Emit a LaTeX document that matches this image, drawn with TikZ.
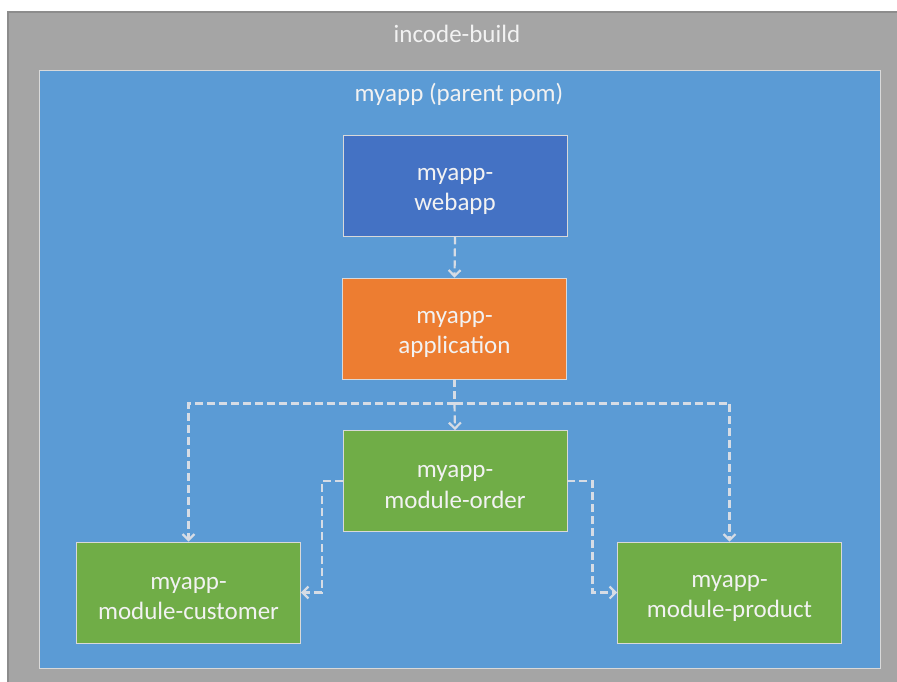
\documentclass[tikz,border=0pt]{standalone}
\usepackage{fontspec}
\setmainfont{Carlito}
\usetikzlibrary{arrows.meta}

\definecolor{buildgray}{HTML}{A5A5A5}
\definecolor{parentblue}{HTML}{5B9BD5}
\definecolor{webblue}{HTML}{4472C4}
\definecolor{apporange}{HTML}{ED7D31}
\definecolor{modgreen}{HTML}{70AD47}
\definecolor{edgegray}{HTML}{D6DCE5}

\newcommand{\modlabel}[2]{\raisebox{-6pt}[\height][\depth]{\shortstack{#1\\[6pt]#2}}}

\begin{document}
\begin{tikzpicture}[x=1pt, y=-1pt, >={Straight Barb[length=6pt,width=12pt]},
    font=\fontsize{25}{31}\selectfont,
    label/.style={text=white!95!black},
    module/.style={draw=white!85!black, line width=0.8pt, text=white!95!black,
      minimum width=224pt, minimum height=101pt, align=center, inner sep=0pt},
    dep/.style={->, draw=edgegray, line width=2.2pt, dash pattern=on 8pt off 4pt}]
    \useasboundingbox (0, 0) rectangle (897, 682);

    % containers
    \fill[buildgray] (8, 12) rectangle (905, 690);
    \draw[black!45, line width=1.2pt] (8, 690) -- (8, 12) -- (905, 12);
    \draw[fill=parentblue, draw=white!85!black, line width=1pt] (39, 71) rectangle (880, 668);
    \node[label] (build) at (457, 34) {incode-build};
    \node[label] (parent) at (459, 94) {myapp (parent pom)};

    % modules
    \node[module, fill=webblue] (webapp) at (455, 185.5) {\modlabel{myapp-}{webapp}};
    \node[module, fill=apporange] (application) at (454.5, 328.5) {\modlabel{myapp-}{application}};
    \node[module, fill=modgreen] (order) at (455, 481) {\modlabel{myapp-}{module-order}};
    \node[module, fill=modgreen] (customer) at (188.5, 592.5) {\modlabel{myapp-}{module-customer}};
    \node[module, fill=modgreen] (product) at (729.5, 592.5) {\modlabel{myapp-}{module-product}};

    % dependencies
    \draw[dep] (webapp.south) -- (application.north);
    \draw[dep, -] (application.south) -- ++(0, 24) coordinate (split);
    \draw[dep] (split) -- (order.north);
    \draw[dep] (split) -| (customer.north);
    \draw[dep] (split) -| (product.north);
    \draw[dep] (order.west) -- ++(-21, 0) |- (customer.east);
    \draw[dep] (order.east) -- ++(25, 0) |- (product.west);
  \end{tikzpicture}
\end{document}
